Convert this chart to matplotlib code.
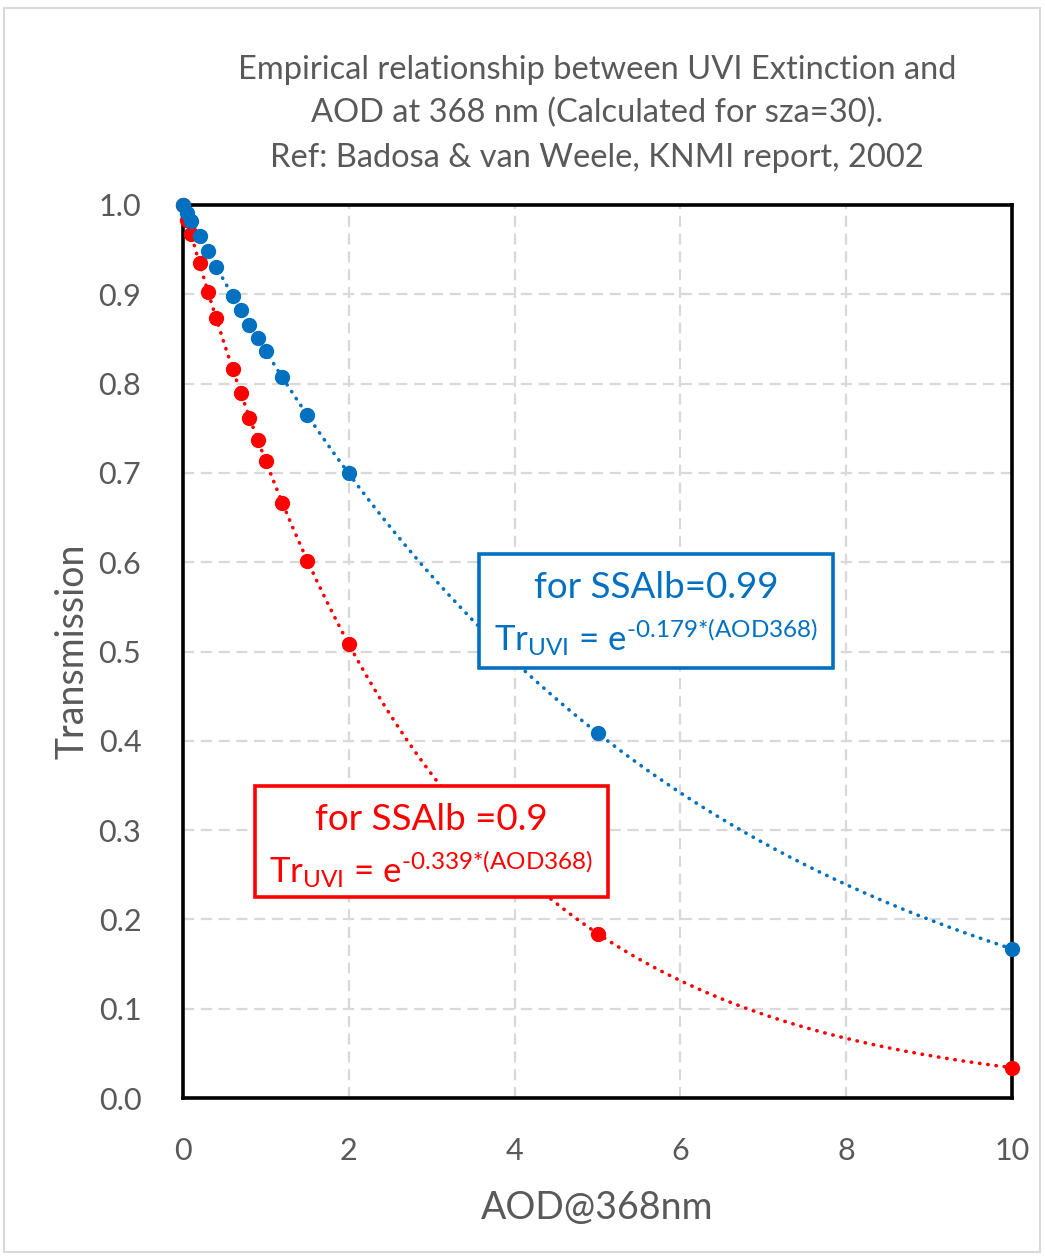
import numpy as np
import matplotlib
matplotlib.use("Agg")
import matplotlib.pyplot as plt
from matplotlib.patches import Rectangle

# AOD values and transmissions
aod = [0, 0.05, 0.1, 0.2, 0.3, 0.4, 0.6, 0.7, 0.8, 0.9, 1.0, 1.2, 1.5, 2, 5, 10]
tr_ssalb_099 = [1.0, 0.991, 0.982, 0.965, 0.948, 0.931, 0.898, 0.882, 0.866,
                0.851, 0.836, 0.807, 0.765, 0.700, 0.409, 0.167]
tr_ssalb_090 = [1.0, 0.983, 0.967, 0.935, 0.903, 0.874, 0.816, 0.789, 0.762,
                0.737, 0.713, 0.666, 0.601, 0.508, 0.184, 0.034]

x_ticks = [0, 2, 4, 6, 8, 10]
y_ticks = [0.0, 0.1, 0.2, 0.3, 0.4, 0.5, 0.6, 0.7, 0.8, 0.9, 1.0]

title_lines = ["Empirical relationship between UVI Extinction and",
               "AOD at 368 nm (Calculated for sza=30).",
               "Ref: Badosa & van Weele, KNMI report, 2002"]

BLUE = "#0070C0"
RED = "#FF0000"
GREY = "#595959"

plt.rcParams["font.family"] = ["Lato", "DejaVu Sans"]
plt.rcParams["mathtext.fontset"] = "custom"
plt.rcParams["mathtext.rm"] = "Lato"
plt.rcParams["mathtext.it"] = "Lato"

W, H = 1045, 1257
fig = plt.figure(figsize=(W / 100, H / 100), dpi=100)
ax = fig.add_axes([183 / W, 1 - 1098 / H, (1012 - 183) / W, (1098 - 205) / H])

# chart frame
fig.patches.append(Rectangle((4 / W, 1 - 1252 / H), 1036 / W, 1244 / H,
                             transform=fig.transFigure, fill=False,
                             edgecolor="#d9d9d9", linewidth=1.5))


def fx(px):
    return px / W


def fy(py):
    return 1 - py / H


# exponential trend lines fitted from the data
xs = np.linspace(0, 10, 400)
for vals, col, z in [(tr_ssalb_090, RED, 3), (tr_ssalb_099, BLUE, 4)]:
    k, b = np.polyfit(aod, np.log(vals), 1)
    ax.plot(xs, np.exp(b + k * xs), color=col, linestyle=(0, (0.1, 2.2)),
            linewidth=2.6, dash_capstyle="round", zorder=z)
    ax.plot(aod, vals, "o", color=col, markersize=10, zorder=z + 2,
            clip_on=False)

ax.set_xlim(0, 10)
ax.set_ylim(0, 1)
ax.set_xticks(x_ticks)
ax.set_yticks(y_ticks)
ax.set_yticklabels([f"{v:.1f}" for v in y_ticks])
ax.tick_params(length=0, labelsize=22, labelcolor=GREY)
ax.tick_params(axis="x", pad=28)
ax.tick_params(axis="y", pad=30)
ax.grid(True, color="#d9d9d9", linestyle=(0, (5, 3)), linewidth=1.6)
ax.set_axisbelow(True)
for s in ax.spines.values():
    s.set_linewidth(2.6)
    s.set_color("black")
    s.set_zorder(2)

ax.set_xlabel("AOD@368nm", fontsize=27, color=GREY, labelpad=18)
ax.set_ylabel("Transmission", fontsize=27, color=GREY, labelpad=6)

for line, py in zip(title_lines, [70, 113, 158]):
    fig.text(fx(597), fy(py), line, ha="center", va="center", fontsize=23.5,
             color=GREY)

# annotation boxes
for (x0, y0, x1, y1), col, l1, l2 in [
        ((479, 554, 833, 668), BLUE, "for SSAlb=0.99",
         r"Tr$_{\text{UVI}}$ = e$^{\text{-0.179*(AOD368)}}$"),
        ((255, 786, 608, 897), RED, "for SSAlb =0.9",
         r"Tr$_{\text{UVI}}$ = e$^{\text{-0.339*(AOD368)}}$")]:
    fig.patches.append(Rectangle((fx(x0), fy(y1)), (x1 - x0) / W, (y1 - y0) / H,
                                 transform=fig.transFigure, facecolor="white",
                                 edgecolor=col, linewidth=2.6, zorder=10))
    cx = (x0 + x1) / 2
    fig.text(fx(cx), fy(y0 + 34), l1, ha="center", va="center", fontsize=26.5,
             color=col, zorder=11)
    fig.text(fx(cx), fy(y0 + 83), l2, ha="center", va="center", fontsize=25,
             color=col, zorder=11)

fig.savefig("out.png", dpi=100, facecolor="white")
